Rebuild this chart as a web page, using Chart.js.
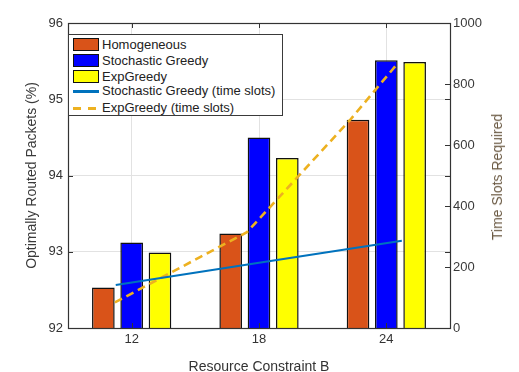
<!DOCTYPE html>
<html><head><meta charset="utf-8">
<script src="https://cdn.jsdelivr.net/npm/chart.js@4.4.1/dist/chart.umd.min.js"></script>
<style>
html,body{margin:0;padding:0;background:#fff;}
#wrap{position:relative;width:519px;height:372px;overflow:hidden;font-family:"Liberation Sans",Arial,Helvetica,sans-serif;}
#c{position:absolute;left:0;top:0;}
#legend{position:absolute;left:68px;top:34px;width:215px;height:82px;border:1.4px solid #3a3a3a;background:#fff;box-sizing:border-box;}
.patch{position:absolute;left:3.5px;width:26px;height:13px;border:1.5px solid #111;box-sizing:border-box;}
.ln{position:absolute;left:3.5px;width:26px;height:3px;}
.dash{position:absolute;height:3px;background:#EDB120;}
.txt{position:absolute;left:33px;height:16px;line-height:16px;font-size:13px;color:#222;white-space:nowrap;}
#rtitle{position:absolute;left:497px;top:177px;transform:translate(-50%,-50%) rotate(-90deg);font-size:14px;color:#6b5a44;white-space:nowrap;}
</style></head>
<body>
<div id="wrap">
<canvas id="c" width="519" height="372"></canvas>
<div id="legend">
  <div class="patch" style="top:3px;background:#D95319"></div><div class="txt" style="top:1.5px">Homogeneous</div>
  <div class="patch" style="top:19px;background:#0000FF"></div><div class="txt" style="top:17.5px">Stochastic Greedy</div>
  <div class="patch" style="top:35px;background:#FFFF00"></div><div class="txt" style="top:33.5px">ExpGreedy</div>
  <div class="ln" style="top:54.5px;background:#0072BD"></div><div class="txt" style="top:48px">Stochastic Greedy (time slots)</div>
  <div class="dash" style="top:71.5px;left:3.5px;width:8px"></div><div class="dash" style="top:71.5px;left:18.5px;width:8px"></div><div class="txt" style="top:64.5px">ExpGreedy (time slots)</div>
</div>
<div id="rtitle">Time Slots Required</div>
</div>
<script>
const categories = [12, 18, 24];
const homogeneous = [92.53, 93.24, 94.73];
const stochasticGreedy = [93.12, 94.50, 95.51];
const expGreedy = [92.99, 94.23, 95.49];
const sgSlotsX = [11.25, 18, 24.73];
const sgSlots = [141, 214, 286];
const egSlotsX = [11.21, 17.43, 22.29, 24.55];
const egSlots = [84, 314, 682, 869];
const leftTicks = [92, 93, 94, 95, 96];
const rightTicks = [0, 200, 400, 600, 800, 1000];

const tickFont = {family: '"Liberation Sans", Arial, sans-serif', size: 13};
const titleFont = {family: '"Liberation Sans", Arial, sans-serif', size: 14};

const pts = (xs, ys) => xs.map((x, i) => ({x: x, y: ys[i]}));

const boxPlugin = {
  id: 'boxPlugin',
  afterDraw(chart) {
    const {ctx, chartArea: {left, right, top, bottom}, scales} = chart;
    const L = 5;
    ctx.save();
    ctx.strokeStyle = '#333';
    ctx.lineWidth = 1;
    ctx.beginPath();
    scales.y.ticks.forEach(t => {
      if (t.value <= 92 || t.value >= 96) return;
      const py = Math.round(scales.y.getPixelForValue(t.value)) + 0.5;
      ctx.moveTo(left, py); ctx.lineTo(left + L, py);
      ctx.moveTo(right, py); ctx.lineTo(right - L, py);
    });
    scales.y1.ticks.forEach(t => {
      if (t.value <= 0 || t.value >= 1000) return;
      const py = Math.round(scales.y1.getPixelForValue(t.value)) + 0.5;
      ctx.moveTo(right, py); ctx.lineTo(right - L, py);
    });
    scales.x.ticks.forEach(t => {
      const px = Math.round(scales.x.getPixelForValue(t.value)) + 0.5;
      ctx.moveTo(px, top); ctx.lineTo(px, top + L);
      ctx.moveTo(px, bottom); ctx.lineTo(px, bottom - L);
    });
    ctx.stroke();
    ctx.lineWidth = 1.2;
    ctx.strokeRect(Math.round(left) + 0.5, Math.round(top) + 0.5, Math.round(right) - Math.round(left), Math.round(bottom) - Math.round(top));
    ctx.restore();
  }
};

new Chart(document.getElementById('c'), {
  type: 'bar',
  data: {
    datasets: [
      {label: 'Homogeneous', data: pts(categories, homogeneous), backgroundColor: '#D95319', borderColor: '#111', borderWidth: 1.5, yAxisID: 'y', order: 1},
      {label: 'Stochastic Greedy', data: pts(categories, stochasticGreedy), backgroundColor: '#0000FF', borderColor: '#111', borderWidth: 1.5, yAxisID: 'y', order: 1},
      {label: 'ExpGreedy', data: pts(categories, expGreedy), backgroundColor: '#FFFF00', borderColor: '#111', borderWidth: 1.5, yAxisID: 'y', order: 1},
      {type: 'line', label: 'Stochastic Greedy (time slots)', data: pts(sgSlotsX, sgSlots),
        yAxisID: 'y1', borderColor: '#0072BD', borderWidth: 2.2, pointRadius: 0, tension: 0, fill: false, order: 0},
      {type: 'line', label: 'ExpGreedy (time slots)', data: pts(egSlotsX, egSlots),
        yAxisID: 'y1', borderColor: '#EDB120', borderWidth: 2.6, borderDash: [8, 5], pointRadius: 0, tension: 0, fill: false, order: 0}
    ]
  },
  options: {
    responsive: false,
    animation: false,
    devicePixelRatio: 1,
    datasets: {bar: {categoryPercentage: 0.667, barPercentage: 0.8}},
    layout: {padding: {top: 23, left: 0, right: 0, bottom: 0}},
    plugins: {legend: {display: false}, tooltip: {enabled: false}},
    scales: {
      x: {
        type: 'linear', position: 'bottom', min: 9, max: 27, offset: false,
        afterBuildTicks(s) { s.ticks = categories.map(v => ({value: v})); },
        grid: {offset: false, color: '#e2e2e2', drawTicks: false},
        border: {display: false},
        ticks: {font: tickFont, color: '#333', padding: 4, callback: v => String(v)},
        title: {display: true, text: 'Resource Constraint B', font: {...titleFont, lineHeight: 0.715}, color: '#333', padding: {top: 0, bottom: 0}},
        afterFit(s) { s.height = 44; }
      },
      y: {
        type: 'linear', position: 'left', min: 92, max: 96,
        afterBuildTicks(s) { s.ticks = leftTicks.map(v => ({value: v})); },
        grid: {color: '#e2e2e2', drawTicks: false},
        border: {display: false},
        ticks: {font: tickFont, color: '#333', padding: 5, callback: v => String(v)},
        title: {display: true, text: 'Optimally Routed Packets (%)', font: {...titleFont, lineHeight: 1.2}, color: '#3a3a3a', padding: {top: 23.3, bottom: 0}},
        afterFit(s) { s.width = 68; }
      },
      y1: {
        type: 'linear', position: 'right', min: 0, max: 1000,
        afterBuildTicks(s) { s.ticks = rightTicks.map(v => ({value: v})); },
        grid: {display: false, drawTicks: false},
        border: {display: false},
        ticks: {font: tickFont, color: '#3a3a3a', padding: 3, callback: v => String(v)},
        afterFit(s) { s.width = 69; }
      }
    }
  },
  plugins: [boxPlugin]
});
</script>
</body></html>
